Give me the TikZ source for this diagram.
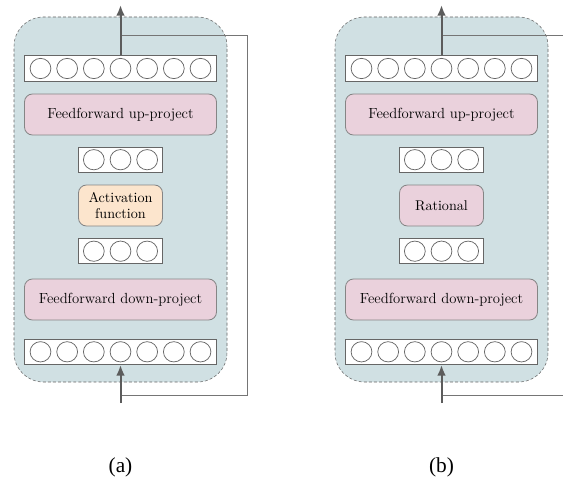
\documentclass[tikz,border=0pt]{standalone}
\usepackage{fontspec}
\newfontfamily\captionfont{Liberation Serif}
\usetikzlibrary{positioning}
\usetikzlibrary{shapes}
\usetikzlibrary{calc}
\usetikzlibrary{arrows.meta}
\definecolor{block-bg}{HTML}{D0E0E3}
\definecolor{proj-fill}{HTML}{EAD1DC}
\definecolor{act-fill}{HTML}{FCE5CD}
\definecolor{edge-gray}{HTML}{666666}
\colorlet{wire}{edge-gray}
\tikzset{
  adapterbg/.style={draw=edge-gray, dash pattern=on 2.2pt off 1.6pt, fill=block-bg,
    rounded corners=22pt, minimum width=159.75pt, minimum height=273.75pt},
  projbox/.style={draw=edge-gray!80, fill=proj-fill, rounded corners=6pt, line width=0.6pt,
    minimum width=144pt, minimum height=30.75pt, font=\fontsize{11}{13}\selectfont},
  midbox/.style={projbox, minimum width=63pt, align=center, inner sep=2pt,
    font=\fontsize{10.6}{12}\selectfont},
  vecbox/.style={draw=edge-gray, fill=white, line width=0.7pt, minimum height=19pt},
  neuron/.style={draw=edge-gray, ellipse, line width=0.55pt, minimum width=15.6pt,
    minimum height=15.2pt, inner sep=0pt},
  flow/.style={draw=edge-gray!90!black, line width=1.5pt, -{Latex[length=8pt,width=6.5pt]}},
  skipline/.style={draw=wire!90, line width=0.75pt},
}
% row of neurons: #1 count, #2 name, #3 position
\newcommand{\tikzvector}[3]{%
\node[vecbox, minimum width=#1*20pt+3.5pt] (#2) at (#3) {};
\foreach \k in {1,...,#1} {
  \node[neuron] (#2-\k) at ($(#2.center)+({(\k-(#1+1)/2)*20pt},0)$) {};
}
}
% one adapter: #1 name, #2 shift, #3 middle style, #4 middle text
\newcommand{\tikzadapter}[4]{%
\begin{scope}[xshift=#2]
\node[adapterbg] (#1-bg) at (120.5,199.5) {};
% residual connection
\coordinate (#1-split) at (120.5,36);
\coordinate (#1-join) at (120.5,395);
\coordinate (#1-in) at (120.5,403);
\coordinate (#1-out) at (120.5,5);
\draw[skipline] (#1-split) -- ++(126.5,0) |- (#1-join);
% layers
\tikzvector{7}{#1-top}{120.5,68.5}
\node[projbox] (#1-up) at (120.5,114.5) {Feedforward up-project};
\tikzvector{3}{#1-mid1}{120.5,159.7}
\node[midbox, #3] (#1-act) at (120.5,205.5) {#4};
\tikzvector{3}{#1-mid2}{120.5,251.2}
\node[projbox] (#1-down) at (120.5,299.5) {Feedforward down-project};
\tikzvector{7}{#1-bot}{120.5,351.8}
% arrows
\draw[flow] (#1-in) -- (#1-bot.south);
\draw[flow] (#1-top.north) -- (#1-out);
\end{scope}
}

\begin{document}
\begin{tikzpicture}[x=0.75pt, y=-0.75pt]
\useasboundingbox (0,0) rectangle (563,481);
\tikzadapter{a}{0pt}{fill=act-fill}{Activation\\function}
\tikzadapter{b}{240.75pt}{}{Rational}
\node[font=\captionfont\fontsize{16}{18}\selectfont] (cap-a) at (120.5,467) {(a)};
\node[font=\captionfont\fontsize{16}{18}\selectfont] (cap-b) at (441.5,467) {(b)};
\end{tikzpicture}
\end{document}
